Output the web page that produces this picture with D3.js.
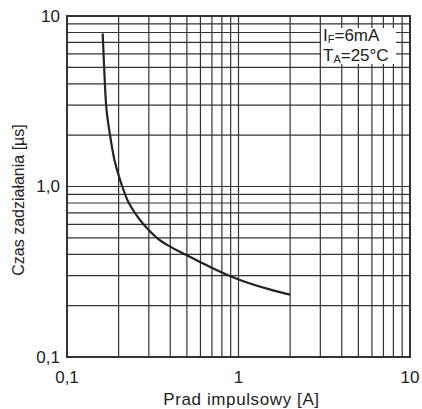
<!DOCTYPE html>
<html>
<head>
    <meta charset="utf-8">
    <title>Czas zadziałania / Prąd impulsowy</title>
    <script src="https://d3js.org/d3.v7.min.js"></script>
    <style>
        body { margin: 0; background: #fff; }
        text { font-family: "Liberation Sans", Arial, sans-serif; fill: #222; }
    </style>
</head>
<body>
    <div id="chart"></div>
    <script>

        // curve
        var current = [0.1615, 0.1666, 0.170, 0.177, 0.19, 0.21, 0.228, 0.249, 0.279, 0.334, 0.39, 0.5, 0.6, 0.8, 1.0, 1.5, 2.0];
        var time    = [7.9, 3.86, 2.82, 2.09, 1.4, 1.0, 0.81, 0.7, 0.6, 0.5, 0.45, 0.395, 0.36, 0.313, 0.285, 0.25, 0.232];

        var xTicks = [0.1, 1, 10];
        var xTickLabels = ["0,1", "1", "10"];
        var yTicks = [0.1, 1, 10];
        var yTickLabels = ["0,1", "1,0", "10"];

        var margin = { top: 16, right: 12, bottom: 52, left: 67 };
        var width = 422 - margin.left - margin.right;
        var height = 409 - margin.top - margin.bottom;

        var svg = d3.select("#chart")
            .append("svg")
            .attr("width", 422)
            .attr("height", 409)
            .append("g")
            .attr("transform", "translate(" + margin.left + ", " + margin.top + ")");

        var x = d3.scaleLog().domain([0.1, 10]).range([0, width]);
        var y = d3.scaleLog().domain([0.1, 10]).range([height, 0]);

        // grid
        svg.append("g")
            .selectAll("line")
            .data(x.ticks())
            .join("line")
            .attr("x1", function(d) { return x(d); })
            .attr("x2", function(d) { return x(d); })
            .attr("y1", 0)
            .attr("y2", height)
            .attr("stroke", "#333")
            .attr("stroke-width", 1.2);

        svg.append("g")
            .selectAll("line")
            .data(y.ticks())
            .join("line")
            .attr("y1", function(d) { return y(d); })
            .attr("y2", function(d) { return y(d); })
            .attr("x1", 0)
            .attr("x2", width)
            .attr("stroke", "#333")
            .attr("stroke-width", 1.2);

        // frame
        svg.append("rect")
            .attr("width", width)
            .attr("height", height)
            .attr("fill", "none")
            .attr("stroke", "#333")
            .attr("stroke-width", 2);

        // tick labels
        svg.selectAll(".xl")
            .data(xTicks)
            .join("text")
            .attr("x", function(d) { return x(d); })
            .attr("y", height + 26)
            .attr("text-anchor", "middle")
            .style("font-size", "17px")
            .text(function(d, i) { return xTickLabels[i]; });

        svg.selectAll(".yl")
            .data(yTicks)
            .join("text")
            .attr("x", -7)
            .attr("y", function(d) { return y(d); })
            .attr("dy", "0.35em")
            .attr("text-anchor", "end")
            .style("font-size", "17px")
            .text(function(d, i) { return yTickLabels[i]; });

        // axis titles
        svg.append("text")
            .attr("x", x(1) + 3)
            .attr("y", height + 48)
            .attr("text-anchor", "middle")
            .style("font-size", "17px")
            .style("letter-spacing", "0.6px")
            .text("Prad impulsowy [A]");

        svg.append("text")
            .attr("transform", "rotate(-90)")
            .attr("x", -(200 - margin.top))
            .attr("y", -margin.left + 24)
            .attr("text-anchor", "middle")
            .style("font-size", "16px")
            .text("Czas zadziałania [µs]");

        // conditions box
        svg.append("rect")
            .attr("x", 254)
            .attr("y", 12)
            .attr("width", 75)
            .attr("height", 36)
            .attr("fill", "#fff");

        var t1 = svg.append("text").attr("x", 256).attr("y", 25).style("font-size", "17px");
        t1.append("tspan").text("I");
        t1.append("tspan").attr("dy", 2).style("font-size", "11px").text("F");
        t1.append("tspan").attr("dy", -2).text("=6mA");

        var t2 = svg.append("text").attr("x", 256).attr("y", 45).style("font-size", "17px");
        t2.append("tspan").text("T");
        t2.append("tspan").attr("dy", 2).style("font-size", "11px").text("A");
        t2.append("tspan").attr("dy", -2).text("=25°C");

        // curve
        var line = d3.line()
            .x(function(d, i) { return x(current[i]); })
            .y(function(d, i) { return y(time[i]); })
            .curve(d3.curveCatmullRom.alpha(0.5));

        svg.append("path")
            .datum(current)
            .attr("d", line)
            .attr("fill", "none")
            .attr("stroke", "#222")
            .attr("stroke-width", 2.2);

    </script>
</body>
</html>
